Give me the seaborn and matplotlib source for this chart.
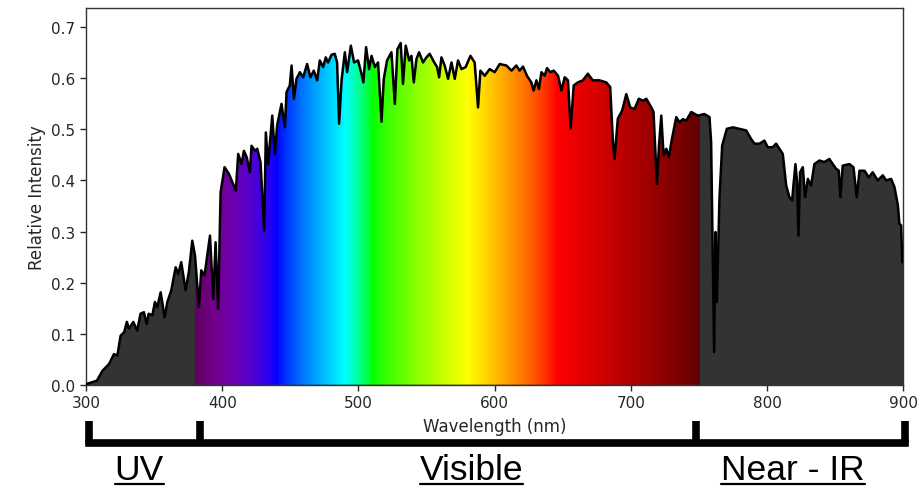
import numpy as np
import seaborn as sns
import matplotlib.pyplot as plt
import matplotlib.transforms as mtransforms
from matplotlib.patches import Polygon

# Spectrum (nm, relative intensity)
wavelength = [
    300, 301, 308, 312, 317, 320.5, 323, 325.4, 328, 330, 331.5, 334.7, 337.6, 340, 342.5,
    344.5, 346, 348.7, 350.6, 352.3, 354.8, 357.7, 359.7, 362.6, 365.8, 367.7, 369.9, 373.1,
    375.5, 378, 380, 382.9, 384.6, 387, 391, 393.4, 395.1, 397, 398.8, 401.7, 404.9, 406.9,
    410, 411.7, 414.2, 415.9, 417.9, 420.3, 421.5, 424, 425.7, 428.1, 430.8, 432, 433.7,
    436.7, 438.6, 440.3, 443.5, 446, 447.2, 449.6, 450.9, 452.6, 454.5, 457, 459.4, 462.3,
    464.8, 467.2, 469.7, 471.6, 474.1, 476, 477.7, 480.2, 482.6, 484.3, 485.8, 487.6, 490,
    491.7, 494.4, 496.8, 499.7, 502.2, 503.6, 505.6, 507.8, 509.6, 512, 514.4, 516.9, 518.6,
    521, 524.2, 526.7, 528.6, 531, 532.7, 534.7, 537.2, 538.9, 540.6, 542.6, 544.5, 547.4,
    549.9, 552.3, 554.8, 557.7, 559.2, 560.9, 563.3, 565.8, 568.3, 570.7, 573.1, 575.6,
    578.7, 582.2, 585.3, 587.8, 589.5, 592.7, 596.3, 600, 603.7, 608.6, 612.3, 615.9, 618.3,
    620.8, 623.7, 626.9, 628.6, 630.6, 632.5, 634.3, 636.7, 638.4, 640.9, 643.3, 646.5, 649,
    651.4, 653.8, 655.8, 658, 661.1, 664.7, 668.4, 672, 677, 681.9, 684.8, 686.7, 688, 690.4,
    693.6, 696.6, 699.5, 702.7, 705.8, 709, 711.3, 715, 716.6, 719.1, 720.6, 722.3, 724, 726,
    727.9, 730.1, 733.3, 735.7, 738.2, 740.6, 744.3, 749.1, 754, 757.7, 758.9, 760.1, 761.1,
    762.1, 763.1, 765, 767, 770.4, 774.8, 779.7, 784.6, 788.3, 790.7, 794.4, 798, 800.5,
    804.1, 806.6, 809, 811.5, 814, 816.4, 818.4, 819.3, 820.8, 822, 823, 824.2, 826.2, 827.9,
    829.9, 832.3, 834.7, 838.4, 842, 845.7, 848.2, 850.6, 852.6, 853.8, 855.5, 860.4, 863.4,
    865.8, 867.8, 871.5, 874.6, 877.5, 881.2, 884.9, 887.4, 891, 893.5, 896, 897.1, 898.4,
    899.2, 900,
]
intensity = [
    0.0, 0.002, 0.008, 0.027, 0.041, 0.06, 0.057, 0.096, 0.103, 0.123, 0.11, 0.123, 0.106, 0.139, 0.142,
    0.119, 0.139, 0.136, 0.162, 0.152, 0.181, 0.132, 0.162, 0.185, 0.23, 0.217, 0.24, 0.185,
    0.221, 0.282, 0.253, 0.152, 0.224, 0.214, 0.292, 0.168, 0.279, 0.149, 0.377, 0.426, 0.413, 0.40,
    0.38, 0.452, 0.432, 0.458, 0.446, 0.416, 0.468, 0.458, 0.462, 0.436, 0.302, 0.494, 0.432,
    0.527, 0.452, 0.508, 0.55, 0.504, 0.573, 0.586, 0.625, 0.56, 0.599, 0.612, 0.602, 0.628,
    0.602, 0.615, 0.596, 0.635, 0.622, 0.641, 0.631, 0.646, 0.648, 0.631, 0.511, 0.596, 0.651,
    0.612, 0.664, 0.631, 0.635, 0.609, 0.592, 0.661, 0.618, 0.644, 0.622, 0.631, 0.515, 0.599,
    0.635, 0.651, 0.55, 0.657, 0.669, 0.589, 0.664, 0.635, 0.644, 0.592, 0.638, 0.651, 0.631,
    0.641, 0.648, 0.635, 0.622, 0.602, 0.641, 0.625, 0.599, 0.631, 0.599, 0.635, 0.618,
    0.622, 0.644, 0.631, 0.543, 0.615, 0.605, 0.618, 0.612, 0.628, 0.625, 0.615, 0.625, 0.615,
    0.623, 0.605, 0.592, 0.576, 0.596, 0.579, 0.612, 0.605, 0.62, 0.612, 0.615, 0.605, 0.576,
    0.602, 0.596, 0.501, 0.586, 0.592, 0.596, 0.609, 0.596, 0.596, 0.592, 0.583, 0.481, 0.442, 0.521,
    0.537, 0.569, 0.543, 0.54, 0.56, 0.556, 0.56, 0.543, 0.534, 0.393, 0.468, 0.527, 0.449, 0.462,
    0.446, 0.481, 0.524, 0.514, 0.52, 0.517, 0.534, 0.527, 0.53, 0.524, 0.475, 0.247, 0.064,
    0.299, 0.162, 0.364, 0.468, 0.501, 0.504, 0.501, 0.498, 0.481, 0.472, 0.472, 0.478, 0.465,
    0.465, 0.472, 0.462, 0.452, 0.39, 0.367, 0.361, 0.39, 0.432, 0.397, 0.292, 0.416, 0.426, 0.367,
    0.403, 0.39, 0.432, 0.439, 0.436, 0.442, 0.432, 0.423, 0.419, 0.367, 0.429, 0.432, 0.426,
    0.367, 0.419, 0.419, 0.406, 0.416, 0.40, 0.41, 0.40, 0.403, 0.387, 0.351, 0.315, 0.312,
    0.24, 0.24,
]

visible_range = (380, 750)
region_names = ["UV", "Visible", "Near - IR"]
region_label_x = [339, 583, 819]
bracket_edges = [302, 384, 748, 901]


def wavelength_to_rgb(w, gamma=0.8):
    # classic visible spectrum approximation
    if w < 440:
        att = 0.3 + 0.7 * (w - 380) / 60
        r, g, b = (-(w - 440) / 60 * att) ** gamma, 0.0, att ** gamma
    elif w < 490:
        r, g, b = 0.0, ((w - 440) / 50) ** gamma, 1.0
    elif w < 510:
        r, g, b = 0.0, 1.0, (-(w - 510) / 20) ** gamma
    elif w < 580:
        r, g, b = ((w - 510) / 70) ** gamma, 1.0, 0.0
    elif w < 645:
        r, g, b = 1.0, (-(w - 645) / 65) ** gamma, 0.0
    else:
        att = 0.3 + 0.7 * (750 - w) / 105
        r, g, b = att ** gamma, 0.0, 0.0
    return (r, g, b)


sns.set_theme(style="ticks")
plt.rcParams["font.family"] = ["DejaVu Sans"]

fig = plt.figure(figsize=(9.23, 4.89), dpi=100)
ax = fig.add_axes([0.0932, 0.2112, 0.8855, 0.7697])

ymax = 0.737
ax.fill_between(wavelength, intensity, color="#333333", lw=0, zorder=1)

# rainbow for the visible band, clipped to the area under the curve
grid = np.linspace(visible_range[0], visible_range[1], 740)
colors = np.array([wavelength_to_rgb(w) for w in grid])[None, :, :]
img = ax.imshow(colors, extent=(visible_range[0], visible_range[1], 0, ymax),
                aspect="auto", interpolation="bilinear", zorder=1.5)
verts = [(wavelength[0], 0)] + list(zip(wavelength, intensity)) + [(wavelength[-1], 0)]
clip = Polygon(verts, closed=True, transform=ax.transData)
img.set_clip_path(clip)

sns.lineplot(x=wavelength, y=intensity, color="black", lw=1.8, estimator=None,
             sort=False, ax=ax, zorder=3)

ax.set_xlim(300, 900)
ax.set_ylim(0, ymax)
ax.set_xticks(range(300, 901, 100))
ax.set_yticks(np.arange(0, 0.71, 0.1))
ax.tick_params(labelsize=11, length=4, width=1, colors="#262626")
for s in ax.spines.values():
    s.set_color("#333333")
    s.set_linewidth(1)
ax.set_xlabel("Wavelength (nm)", fontsize=12, labelpad=5)
ax.set_ylabel("Relative Intensity", fontsize=12)

# region brackets under the axis
trans = mtransforms.blended_transform_factory(ax.transData, fig.transFigure)
y_bar = 1 - 444 / 489
y_top = 1 - 422 / 489
ax.plot([bracket_edges[0], bracket_edges[-1]], [y_bar, y_bar], color="black", lw=5.5,
        transform=trans, clip_on=False, solid_capstyle="projecting")
for e in bracket_edges:
    ax.plot([e, e], [y_bar, y_top], color="black", lw=5.5, transform=trans,
            clip_on=False, solid_capstyle="butt")

y_text = 1 - 480 / 489
y_line = 1 - 484.5 / 489
texts = []
for name, x in zip(region_names, region_label_x):
    t = ax.text(x, y_text, name, transform=trans, ha="center", va="baseline",
                fontsize=25.5, family="Liberation Sans", color="black")
    texts.append(t)

fig.canvas.draw()
renderer = fig.canvas.get_renderer()
inv = fig.transFigure.inverted()
for t in texts:
    bb = t.get_window_extent(renderer)
    (x0, _), (x1, _) = inv.transform([(bb.x0, 0), (bb.x1, 0)])
    fig.add_artist(plt.Line2D([x0, x1], [y_line, y_line], color="black", lw=1.6,
                              transform=fig.transFigure))

fig.savefig("out.png", dpi=100)
